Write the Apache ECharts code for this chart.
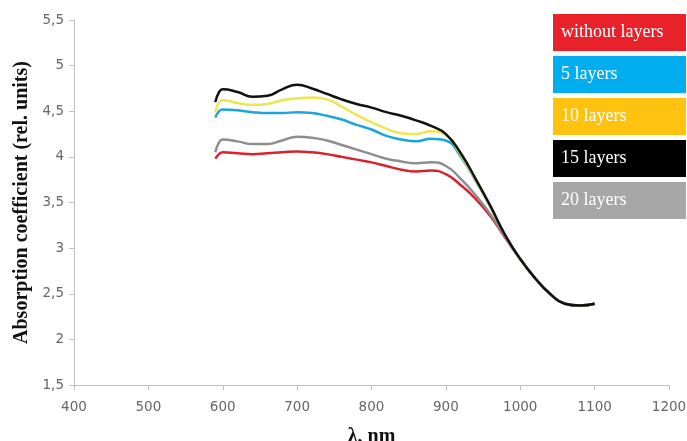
<!DOCTYPE html>
<html><head><meta charset="utf-8">
<script src="https://cdn.jsdelivr.net/npm/echarts@6/dist/echarts.min.js"></script>
<style>html,body{margin:0;padding:0;background:#fff}#c{width:687px;height:441px}</style>
</head><body><div id="c"></div>
<script>
const wavelengths = [590, 595, 600, 620, 640, 660, 680, 700, 720, 740, 760, 780, 800, 820, 840, 860, 880, 900, 920, 940, 960, 980, 1000, 1020, 1040, 1060, 1080, 1100];
const seriesNames = ['without layers', '5 layers', '10 layers', '15 layers', '20 layers'];
const withoutLayers = [3.98, 4.03, 4.05, 4.04, 4.03, 4.04, 4.05, 4.06, 4.05, 4.03, 4.00, 3.97, 3.94, 3.90, 3.86, 3.84, 3.85, 3.81, 3.69, 3.54, 3.35, 3.11, 2.88, 2.67, 2.50, 2.39, 2.37, 2.39];
const layers5 = [4.43, 4.50, 4.52, 4.51, 4.49, 4.48, 4.48, 4.49, 4.48, 4.45, 4.41, 4.35, 4.30, 4.23, 4.19, 4.17, 4.20, 4.18, 4.00, 3.74, 3.45, 3.13, 2.88, 2.67, 2.50, 2.39, 2.37, 2.39];
const layers10 = [4.49, 4.60, 4.62, 4.59, 4.57, 4.58, 4.62, 4.64, 4.65, 4.63, 4.55, 4.46, 4.38, 4.31, 4.26, 4.25, 4.28, 4.24, 4.02, 3.75, 3.45, 3.13, 2.88, 2.67, 2.50, 2.39, 2.37, 2.39];
const layers15 = [4.60, 4.71, 4.74, 4.71, 4.66, 4.67, 4.74, 4.79, 4.75, 4.69, 4.63, 4.58, 4.54, 4.49, 4.45, 4.40, 4.34, 4.25, 4.04, 3.76, 3.46, 3.14, 2.88, 2.67, 2.50, 2.39, 2.37, 2.39];
const layers20 = [4.05, 4.16, 4.19, 4.17, 4.14, 4.14, 4.18, 4.22, 4.21, 4.18, 4.13, 4.08, 4.03, 3.98, 3.95, 3.93, 3.94, 3.90, 3.76, 3.58, 3.37, 3.12, 2.88, 2.67, 2.50, 2.39, 2.37, 2.39];
const allValues = [withoutLayers, layers5, layers10, layers15, layers20];
const lineColors = ['#D8222E', '#1BA6DA', '#EEE64C', '#111111', '#8E8E8E'];
const boxColors = ['#E8212B', '#00AEEF', '#FFC20E', '#000000', '#A6A6A6'];
const xTicks = {min: 400, max: 1200, step: 100};
const yTicks = {min: 1.5, max: 5.5, step: 0.5};

const chart = echarts.init(document.getElementById('c'), null, {renderer: 'canvas'});
const series = seriesNames.map((name, i) => ({
  name: name,
  type: 'line',
  smooth: true,
  showSymbol: false,
  symbol: 'none',
  z: i === 3 ? 5 : 2 + i * 0.1,
  lineStyle: {color: lineColors[i], width: 2.5},
  itemStyle: {color: lineColors[i]},
  data: wavelengths.map((w, k) => [w, allValues[i][k]])
}));
chart.setOption({
  animation: false,
  backgroundColor: '#ffffff',
  grid: {left: 74, right: 18, top: 20, bottom: 56, outerBoundsMode: 'none', containLabel: false},
  legend: {
    orient: 'vertical',
    left: 548,
    top: 14,
    padding: 0,
    itemGap: 5,
    itemWidth: 0,
    itemHeight: 0,
    icon: 'rect',
    selectedMode: false,
    data: seriesNames.map((name, i) => ({
      name: name,
      textStyle: {
        color: '#ffffff',
        backgroundColor: boxColors[i],
        fontFamily: 'Liberation Serif',
        fontSize: 18,
        width: 120,
        lineHeight: 21,
        padding: [8, 5, 8, 8]
      }
    }))
  },
  xAxis: {
    type: 'value',
    min: xTicks.min, max: xTicks.max, interval: xTicks.step,
    name: 'λ, nm',
    nameLocation: 'middle',
    nameGap: 42,
    nameTextStyle: {fontFamily: 'Liberation Serif', fontWeight: 'bold', fontSize: 20, color: '#111'},
    axisLine: {lineStyle: {color: '#BFBFBF', width: 1}},
    axisTick: {show: true, length: 5, lineStyle: {color: '#BFBFBF'}},
    splitLine: {show: false},
    axisLabel: {fontFamily: 'DejaVu Sans', fontSize: 13.5, color: '#666666', margin: 15,
      formatter: v => String(v)}
  },
  yAxis: {
    type: 'value',
    min: yTicks.min, max: yTicks.max, interval: yTicks.step,
    name: 'Absorption coefficient (rel. units)',
    nameLocation: 'middle',
    nameRotate: 90,
    nameGap: 41,
    nameTextStyle: {fontFamily: 'Liberation Serif', fontWeight: 'bold', fontSize: 20, color: '#111'},
    axisLine: {show: true, lineStyle: {color: '#BFBFBF', width: 1}},
    axisTick: {show: true, length: 5, lineStyle: {color: '#BFBFBF'}},
    splitLine: {show: false},
    axisLabel: {fontFamily: 'DejaVu Sans', fontSize: 13.5, color: '#666666', margin: 10,
      formatter: v => String(v).replace('.', ',')}
  },
  series: series
});
</script></body></html>
